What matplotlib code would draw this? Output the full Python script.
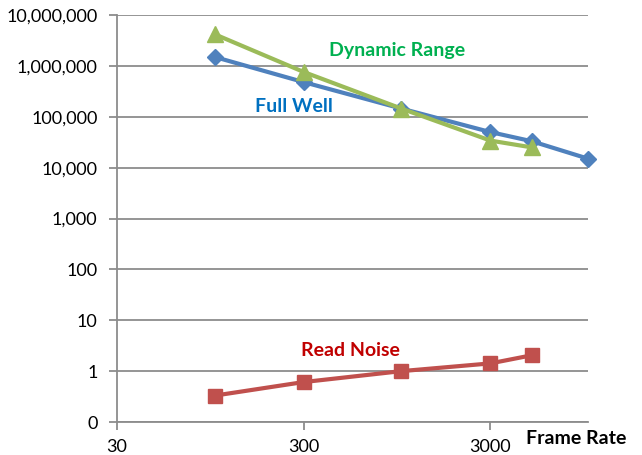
import matplotlib
matplotlib.use("Agg")
import matplotlib.pyplot as plt
from matplotlib.ticker import FixedLocator, FuncFormatter, NullLocator

# Data
frame_rate = [100, 300, 1000, 3000, 5000, 10000]
full_well = [1500000, 480000, 145000, 50000, 33000, 15000]
dr_frame_rate = [100, 300, 1000, 3000, 5000]
dynamic_range = [4200000, 760000, 145000, 34000, 25000]
rn_frame_rate = [100, 300, 1000, 3000, 5000]
read_noise = [0.33, 0.61, 1.0, 1.42, 2.05]

y_ticks = [0.1, 1, 10, 100, 1000, 10000, 100000, 1000000, 10000000]
x_ticks = [30, 300, 3000]

plt.rcParams["font.family"] = ["Lato", "DejaVu Sans"]

fig = plt.figure(figsize=(6.42, 4.55), dpi=100)
ax = fig.add_axes([0.182, 0.0725, 0.734, 0.8945])

blue = "#4F81BD"
green = "#9BBB59"
red = "#C0504D"

ax.plot(frame_rate, full_well, color=blue, lw=3, marker="D", ms=8,
        clip_on=False, zorder=3)
ax.plot(dr_frame_rate, dynamic_range, color=green, lw=3, marker="^", ms=11,
        clip_on=False, zorder=4)
ax.plot(rn_frame_rate, read_noise, color=red, lw=3, marker="s", ms=10,
        clip_on=False, zorder=3)

ax.set_xscale("log")
ax.set_yscale("log")
ax.set_xlim(30, 10000)
ax.set_ylim(0.1, 10000000)

ax.yaxis.set_major_locator(FixedLocator(y_ticks))
ax.yaxis.set_minor_locator(NullLocator())
ax.yaxis.set_major_formatter(FuncFormatter(lambda v, p: f"{v:,.0f}"))
ax.xaxis.set_major_locator(FixedLocator(x_ticks))
ax.xaxis.set_minor_locator(NullLocator())
ax.xaxis.set_major_formatter(FuncFormatter(lambda v, p: f"{v:.0f}"))

ax.grid(axis="y", color="#8C8C8C", lw=1.3)
ax.set_axisbelow(True)
for side in ["top", "right"]:
    ax.spines[side].set_visible(False)
for side in ["left", "bottom"]:
    ax.spines[side].set_color("#8C8C8C")
    ax.spines[side].set_linewidth(1.3)

ax.tick_params(axis="y", length=6, width=1.3, color="#8C8C8C",
               labelsize=13, pad=8)
ax.tick_params(axis="x", length=6, width=1.3, color="#8C8C8C",
               labelsize=13, pad=6)

ax.text(946, 2000000, "Dynamic Range", color="#00B050", fontsize=14,
        fontweight="bold", ha="center", va="center")
ax.text(267, 160000, "Full Well", color="#0070C0", fontsize=14,
        fontweight="bold", ha="center", va="center")
ax.text(535, 2.5, "Read Noise", color="#C00000", fontsize=14,
        fontweight="bold", ha="center", va="center")
fig.text(0.975, 0.037, "Frame Rate", fontsize=14, fontweight="bold",
         ha="right", va="center")

fig.savefig("out.png", dpi=100)
